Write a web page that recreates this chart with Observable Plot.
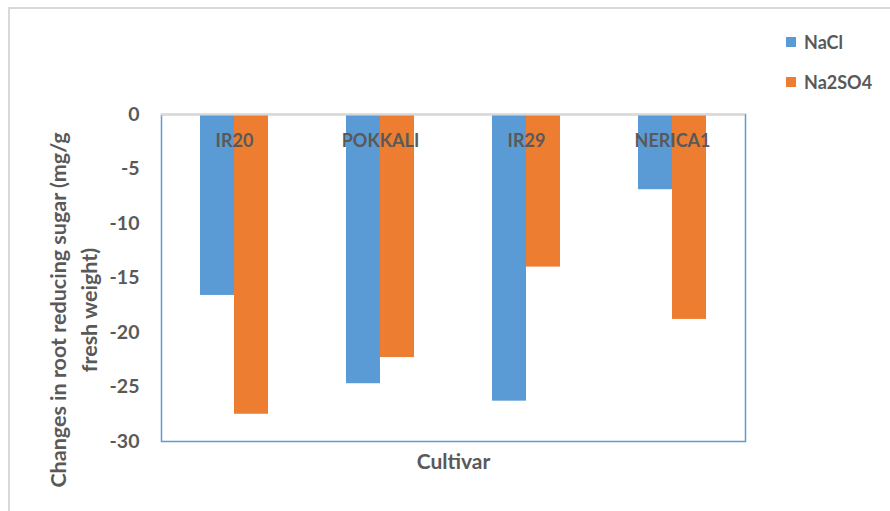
<!DOCTYPE html>
<html>
<head>
<meta charset="utf-8">
<script src="https://cdn.jsdelivr.net/npm/d3@7"></script>
<script src="https://cdn.jsdelivr.net/npm/@observablehq/plot@0.6"></script>
<style>
  html, body { margin: 0; padding: 0; background: #fff; }
  #chart { position: relative; width: 890px; height: 511px; overflow: hidden; font-family: Lato, "Open Sans", sans-serif; }
  #outline { position: absolute; left: 8px; top: 7px; width: 1000px; height: 1000px;
             border-left: 2px solid #d9d9d9; border-top: 2px solid #d9d9d9; pointer-events: none; }
  #legend { position: absolute; left: 0; top: 0; width: 890px; height: 100px; z-index: 2; }
  .item { position: absolute; left: 786px; display: flex; align-items: center;
          font-size: 18px; font-weight: bold; color: #595959; }
  .swatch { width: 10px; height: 10px; margin-right: 8px; }
  svg { display: block; }
</style>
</head>
<body>
<div id="chart">
  <div id="outline"></div>
  <div id="legend"></div>
</div>
<script>
// Cultivars and the change in root reducing sugar (mg/g fresh weight) per salt treatment
const cultivars = ["IR20", "POKKALI", "IR29", "NERICA1"];
const treatments = ["NaCl", "Na2SO4"];
const naclValues = [-16.6, -24.7, -26.3, -6.9];
const na2so4Values = [-27.5, -22.3, -14.0, -18.8];
const treatmentColors = ["#5B9BD5", "#ED7D31"];
const yTicks = [0, -5, -10, -15, -20, -25, -30];

const rows = cultivars.flatMap((c, i) => [
  {cultivar: c, treatment: treatments[0], value: naclValues[i]},
  {cultivar: c, treatment: treatments[1], value: na2so4Values[i]}
]);

const textGray = "#595959";

// Legend (stacked vertically at the upper right)
const legend = document.getElementById("legend");
treatments.forEach((t, i) => {
  const item = document.createElement("div");
  item.className = "item";
  item.style.top = (31 + i * 40) + "px";
  const sw = document.createElement("span");
  sw.className = "swatch";
  sw.style.background = treatmentColors[i];
  const label = document.createElement("span");
  label.textContent = t;
  item.append(sw, label);
  legend.append(item);
});

const chart = Plot.plot({
  width: 890,
  height: 511,
  marginTop: 114,
  marginBottom: 70,
  marginLeft: 159,
  marginRight: 144,
  style: {fontFamily: "Lato, 'Open Sans', sans-serif", background: "transparent"},
  fx: {domain: cultivars, padding: 0, axis: null},
  x: {domain: treatments, paddingInner: 0, paddingOuter: 1.1, axis: null},
  y: {domain: [-30, 0]},
  color: {domain: treatments, range: treatmentColors},
  marks: [
    Plot.barY(rows, {fx: "cultivar", x: "treatment", y1: 0, y2: "value", fill: "treatment"}),
    Plot.frame({facet: "super", stroke: "#5B9BD5", strokeWidth: 1.5}),
    Plot.ruleY([0], {stroke: "#d9d9d9", strokeWidth: 2}),
    Plot.text(cultivars, {fx: d => d, text: d => d, frameAnchor: "top", lineAnchor: "middle", dy: 27,
      fontSize: 18, fontWeight: "bold", fill: textGray}),
    Plot.axisY({ticks: yTicks, tickFormat: d => String(d), tickSize: 0, tickPadding: 22,
      fontSize: 19.5, fontWeight: "bold", fill: textGray, label: null}),
    Plot.text(["Changes in root reducing sugar (mg/g\nfresh weight)"], {facet: "super",
      frameAnchor: "left", textAnchor: "middle", lineAnchor: "middle", rotate: -90,
      dx: -90, dy: 32, lineHeight: 1.42,
      fontSize: 21.5, fontWeight: "bold", fill: textGray}),
    Plot.text(["Cultivar"], {facet: "super", frameAnchor: "bottom", lineAnchor: "middle", dy: 21,
      fontSize: 21, fontWeight: "bold", fill: textGray})
  ]
});

document.getElementById("chart").append(chart);
</script>
</body>
</html>
